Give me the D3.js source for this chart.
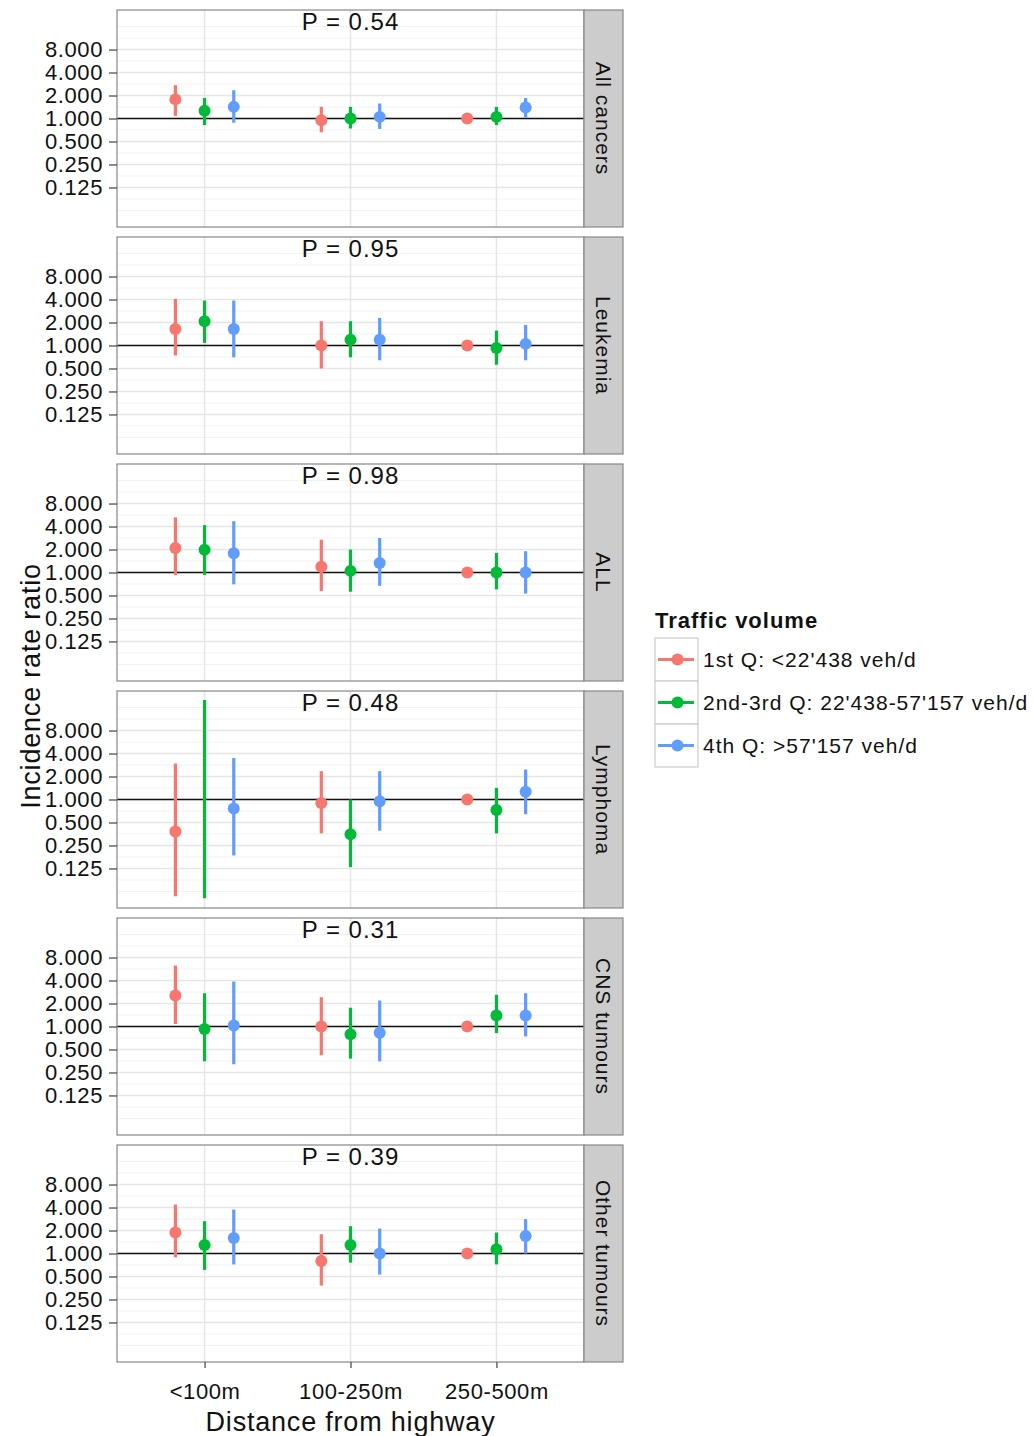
<!DOCTYPE html>
<html lang="en">
<head>
  <meta charset="UTF-8" />
  <title>Incidence rate ratio by distance from highway</title>
  <script src="https://d3js.org/d3.v7.min.js"></script>
  <style>
    html, body {
      margin: 0;
      padding: 0;
      background-color: white;
      overflow: hidden;
    }
    text {
      font-family: "Liberation Sans", Arial, sans-serif;
      fill: #111;
    }
  </style>
</head>
<body>
  <svg id="chart" width="1034" height="1436"></svg>

  <script>
    // categories and labels
    const distances = ["<100m", "100-250m", "250-500m"];
    const outcomes = ["All cancers", "Leukemia", "ALL", "Lymphoma", "CNS tumours", "Other tumours"];
    const pValues = ["P = 0.54", "P = 0.95", "P = 0.98", "P = 0.48", "P = 0.31", "P = 0.39"];
    const seriesNames = ["1st Q: <22'438 veh/d", "2nd-3rd Q: 22'438-57'157 veh/d", "4th Q: >57'157 veh/d"];
    const seriesColors = ["#F8766D", "#00BA38", "#619CFF"];
    const yTicks = [0.125, 0.25, 0.5, 1, 2, 4, 8];

    // estimates per outcome (rows) and distance (columns); null = not drawn
    const q1Est = [[1.78, 0.95, 1], [1.65, 1.0, 1], [2.1, 1.19, 1], [0.38, 0.9, 1], [2.55, 1.0, 1], [1.88, 0.8, 1]];
    const q1Lo  = [[1.08, 0.66, null], [0.74, 0.50, null], [0.93, 0.57, null], [0.054, 0.36, null], [1.08, 0.42, null], [0.89, 0.38, null]];
    const q1Hi  = [[2.73, 1.42, null], [4.08, 2.08, null], [5.27, 2.69, null], [2.96, 2.35, null], [6.28, 2.42, null], [4.38, 1.79, null]];

    const q2Est = [[1.26, 1.0, 1.05], [2.08, 1.19, 0.93], [1.98, 1.05, 1.0], [null, 0.35, 0.73], [0.93, 0.79, 1.39], [1.29, 1.29, 1.14]];
    const q2Lo  = [[0.82, 0.74, 0.82], [1.08, 0.70, 0.56], [0.93, 0.56, 0.60], [0.051, 0.13, 0.36], [0.35, 0.38, 0.82], [0.61, 0.76, 0.72]];
    const q2Hi  = [[1.86, 1.42, 1.42], [3.88, 2.08, 1.57], [4.17, 2.0, 1.8], [20.1, 1.0, 1.42], [2.73, 1.76, 2.6], [2.65, 2.28, 1.88]];

    const q4Est = [[1.42, 1.05, 1.39], [1.65, 1.19, 1.05], [1.79, 1.33, 1.0], [0.76, 0.95, 1.26], [1.03, 0.83, 1.39], [1.6, 1.0, 1.69]];
    const q4Lo  = [[0.88, 0.73, 1.03], [0.70, 0.64, 0.64], [0.70, 0.67, 0.53], [0.185, 0.39, 0.64], [0.32, 0.35, 0.74], [0.72, 0.53, 1.0]];
    const q4Hi  = [[2.35, 1.57, 1.86], [3.88, 2.30, 1.86], [4.7, 2.83, 1.9], [3.5, 2.35, 2.47], [3.88, 2.19, 2.73], [3.76, 2.12, 2.82]];

    const estSets = [q1Est, q2Est, q4Est];
    const loSets = [q1Lo, q2Lo, q4Lo];
    const hiSets = [q1Hi, q2Hi, q4Hi];

    // layout
    const panelLeft = 117, panelRight = 584, stripW = 39;
    const panelTop0 = 10, panelH = 217, panelGap = 10;
    const svg = d3.select("#chart");

    const x = d3.scalePoint().domain(distances).range([panelLeft, panelRight]).padding(0.6);
    const dodge = d3.scalePoint().domain([0, 1, 2]).range([-0.2 * x.step(), 0.2 * x.step()]);

    const gridMajor = d3.range(-3, 4).map(k => Math.pow(2, k));
    const gridMinor = d3.range(-8, 9).map(k => Math.pow(2, k / 2));

    outcomes.forEach((name, pi) => {
      const top = panelTop0 + pi * (panelH + panelGap);
      const bottom = top + panelH;
      const y = d3.scaleLog().base(2)
        .domain([Math.pow(2, -4.72), Math.pow(2, 4.72)])
        .range([bottom, top]);

      const g = svg.append("g").attr("class", "panel");

      g.append("rect")
        .attr("x", panelLeft).attr("y", top)
        .attr("width", panelRight - panelLeft).attr("height", panelH)
        .attr("fill", "white");

      g.selectAll("line.minor").data(gridMinor).enter().append("line")
        .attr("class", "minor")
        .attr("x1", panelLeft).attr("x2", panelRight)
        .attr("y1", d => y(d)).attr("y2", d => y(d))
        .attr("stroke", "#f2f2f2").attr("stroke-width", 1);

      g.selectAll("line.major").data(gridMajor).enter().append("line")
        .attr("class", "major")
        .attr("x1", panelLeft).attr("x2", panelRight)
        .attr("y1", d => y(d)).attr("y2", d => y(d))
        .attr("stroke", "#e6e6e6").attr("stroke-width", 1.5);

      g.selectAll("line.vgrid").data(distances).enter().append("line")
        .attr("class", "vgrid")
        .attr("x1", d => x(d)).attr("x2", d => x(d))
        .attr("y1", top).attr("y2", bottom)
        .attr("stroke", "#e6e6e6").attr("stroke-width", 1.5);

      // reference line at 1
      g.append("line")
        .attr("x1", panelLeft).attr("x2", panelRight)
        .attr("y1", y(1)).attr("y2", y(1))
        .attr("stroke", "#111").attr("stroke-width", 1.4);

      // P label
      g.append("text")
        .attr("x", (panelLeft + panelRight) / 2)
        .attr("y", top + 20)
        .attr("text-anchor", "middle")
        .style("font-size", "24px")
        .style("letter-spacing", "1px")
        .text(pValues[pi]);

      // point ranges
      seriesNames.forEach((s, si) => {
        const rows = distances.map((dist, di) => ({
          dist,
          est: estSets[si][pi][di],
          lo: loSets[si][pi][di],
          hi: hiSets[si][pi][di]
        }));
        const sg = g.append("g").attr("class", "series");
        sg.selectAll("line.ci").data(rows.filter(d => d.lo != null)).enter().append("line")
          .attr("class", "ci")
          .attr("x1", d => x(d.dist) + dodge(si)).attr("x2", d => x(d.dist) + dodge(si))
          .attr("y1", d => y(d.lo)).attr("y2", d => y(d.hi))
          .attr("stroke", seriesColors[si]).attr("stroke-width", 3.2);
        sg.selectAll("circle").data(rows.filter(d => d.est != null)).enter().append("circle")
          .attr("cx", d => x(d.dist) + dodge(si))
          .attr("cy", d => y(d.est))
          .attr("r", 6)
          .attr("fill", seriesColors[si]);
      });

      // panel border
      g.append("rect")
        .attr("x", panelLeft).attr("y", top)
        .attr("width", panelRight - panelLeft).attr("height", panelH)
        .attr("fill", "none").attr("stroke", "#888").attr("stroke-width", 1.2);

      // strip
      g.append("rect")
        .attr("x", panelRight).attr("y", top)
        .attr("width", stripW).attr("height", panelH)
        .attr("fill", "#cccccc").attr("stroke", "#888").attr("stroke-width", 1.2);
      g.append("text")
        .attr("transform", `translate(${panelRight + stripW / 2},${top + panelH / 2}) rotate(90)`)
        .attr("text-anchor", "middle")
        .attr("dy", "0.35em")
        .style("font-size", "21px")
        .style("letter-spacing", "1px")
        .text(name);

      // y axis
      const yAxis = g.append("g")
        .attr("transform", `translate(${panelLeft},0)`)
        .call(d3.axisLeft(y).tickValues(yTicks).tickFormat(d3.format(".3f")).tickSize(8).tickPadding(6));
      yAxis.select(".domain").remove();
      yAxis.selectAll(".tick line").attr("stroke", "#444").attr("stroke-width", 1.2);
      yAxis.selectAll(".tick text")
        .style("font-size", "22px")
        .style("letter-spacing", "0.6px")
        .style("font-family", "'Liberation Sans', Arial, sans-serif")
        .attr("fill", "#111");

      // x axis on last panel
      if (pi === outcomes.length - 1) {
        const xAxis = g.append("g")
          .attr("transform", `translate(0,${bottom})`)
          .call(d3.axisBottom(x).tickSize(6).tickPadding(15));
        xAxis.select(".domain").remove();
        xAxis.selectAll(".tick line").attr("stroke", "#444").attr("stroke-width", 1.2);
        xAxis.selectAll(".tick text")
          .style("font-size", "22px")
          .style("letter-spacing", "0.6px")
          .style("font-family", "'Liberation Sans', Arial, sans-serif")
          .attr("fill", "#111");
      }
    });

    // axis titles
    const plotBottom = panelTop0 + outcomes.length * (panelH + panelGap) - panelGap;
    svg.append("text")
      .attr("x", (panelLeft + panelRight) / 2)
      .attr("y", 1431)
      .attr("text-anchor", "middle")
      .style("font-size", "27px")
      .style("letter-spacing", "0.8px")
      .text("Distance from highway");

    svg.append("text")
      .attr("transform", `translate(40,${(panelTop0 + plotBottom) / 2}) rotate(-90)`)
      .attr("text-anchor", "middle")
      .style("font-size", "27px")
      .style("letter-spacing", "0.8px")
      .text("Incidence rate ratio");

    // legend
    const legend = svg.append("g").attr("transform", "translate(655,0)");
    legend.append("text")
      .attr("x", 0).attr("y", 628)
      .style("font-size", "22px")
      .style("font-weight", "bold")
      .style("letter-spacing", "1px")
      .text("Traffic volume");

    const keyH = 43, keyW = 43, keyTop = 638;
    const items = legend.selectAll("g.item").data(seriesNames).enter().append("g")
      .attr("class", "item")
      .attr("transform", (d, i) => `translate(0,${keyTop + i * keyH})`);
    items.append("rect")
      .attr("x", 0).attr("y", 0).attr("width", keyW).attr("height", keyH)
      .attr("fill", "white").attr("stroke", "#cccccc").attr("stroke-width", 1.2);
    items.append("line")
      .attr("x1", 3).attr("x2", keyW - 4)
      .attr("y1", keyH / 2).attr("y2", keyH / 2)
      .attr("stroke", (d, i) => seriesColors[i]).attr("stroke-width", 3.2);
    items.append("circle")
      .attr("cx", keyW / 2 + 1).attr("cy", keyH / 2).attr("r", 6)
      .attr("fill", (d, i) => seriesColors[i]);
    items.append("text")
      .attr("x", keyW + 5).attr("y", keyH / 2)
      .attr("dy", "0.35em")
      .style("font-size", "21px")
      .style("letter-spacing", "1px")
      .text(d => d);
  </script>
</body>
</html>
